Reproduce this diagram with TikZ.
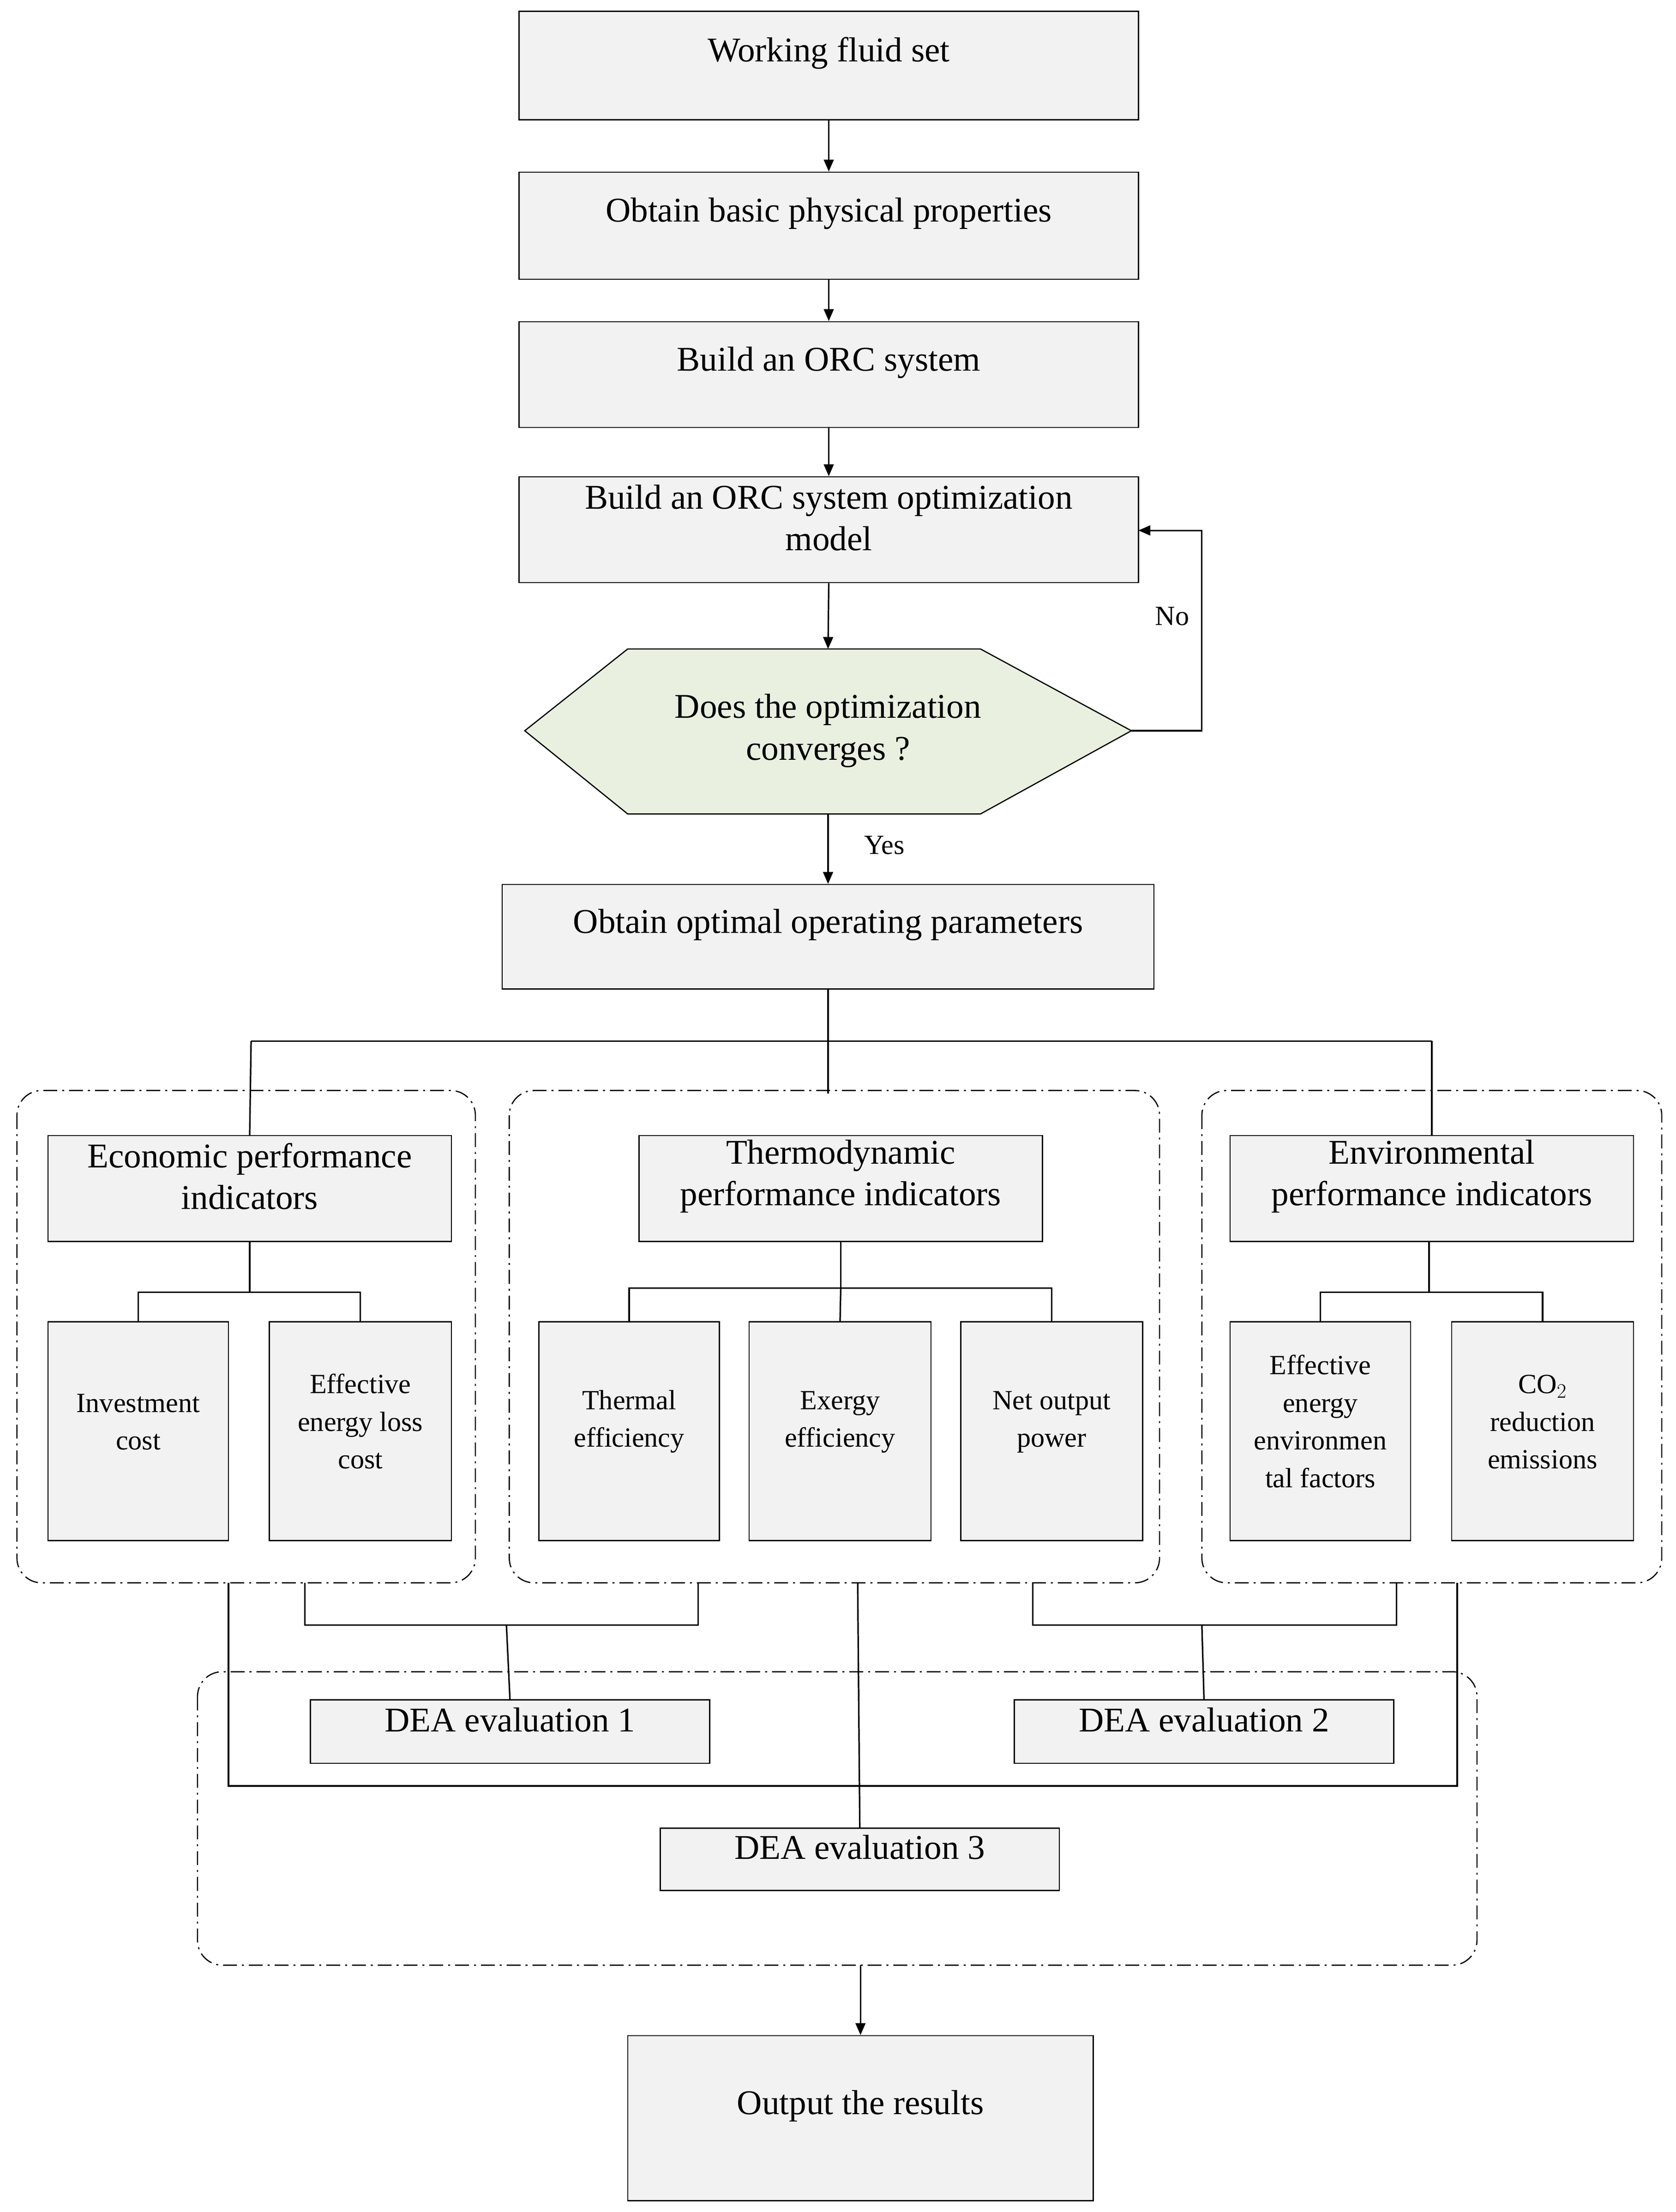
\documentclass[tikz,border=0pt]{standalone}
\usepackage{fontspec}
\setmainfont{Liberation Serif}
\usetikzlibrary{fit,arrows.meta}
\begin{document}
\begin{tikzpicture}[x=0.05cm,y=-0.05cm,
 box/.style={draw,line width=1.2pt,fill=gray!10,inner sep=0pt,align=center,font=\fontsize{35}{42}\selectfont},
 sbox/.style={box,font=\fontsize{28}{38}\selectfont},
 grp/.style={draw,line width=1.2pt,dash pattern=on 14pt off 5pt on 2pt off 5pt,rounded corners=25pt},
 ln/.style={line width=1.5pt},
 ar/.style={ln,-{Triangle[length=12pt,width=10pt]}},
 lab/.style={font=\fontsize{28}{34}\selectfont}]
\useasboundingbox (0,0) rectangle (1188,1568);
\node[box,fit={(368,8)(807,85)}] (b1) {Working fluid set};
\node[box,fit={(368,122)(807,198)}] (b2) {Obtain basic physical properties};
\node[box,fit={(368,228)(807,303)}] (b3) {Build an ORC system};
\node[box,fit={(368,338)(807,413)}] (b4) {Build an ORC system optimization\\model};
\draw[line width=1.2pt,fill={rgb,255:red,233;green,240;blue,224}] (372,518)--(445,460)--(695,460)--(802,518)--(695,577)--(445,577)--cycle;
\node[align=center,font=\fontsize{35}{42}\selectfont] (hx) at (587,518) {Does the optimization\\converges ?};
\coordinate (htop) at (587,460); \coordinate (hbot) at (587,577); \coordinate (hr) at (802,518);
\node[box,fit={(356,627)(818,701)}] (opt) {Obtain optimal operating parameters};
\draw[ar] (b1)--(b2); \draw[ar] (b2)--(b3); \draw[ar] (b3)--(b4);
\draw[ar] (b4.south)--(htop); \draw[ar] (hbot)--(opt.north);
\coordinate (b4r) at (807,376);
\draw[ar] (hr)--(852,518)--(852,376)--(b4r);
\node[lab] at (831,437) {No}; \node[lab] at (627,599) {Yes};
% groups
\draw[grp] (12,773) rectangle (337,1122);
\draw[grp] (361,773) rectangle (822,1122);
\draw[grp] (852,773) rectangle (1178,1122);
\draw[grp] (140,1185) rectangle (1047,1393);
\node[box,fit={(34,805)(320,880)}] (eco) {Economic performance\\indicators};
\node[box,fit={(453,805)(739,880)}] (th) {Thermodynamic\\performance indicators};
\node[box,fit={(872,805)(1158,880)}] (env) {Environmental\\performance indicators};
\draw[ln] (opt.south)--(587,738); \draw[ln] (178,738)--(1015,738);
\draw[ln] (178,738)--(eco.north); \draw[ln] (1015,738)--(env.north); \draw[ln] (587,738)--(587,775);
\node[sbox,fit={(34,937)(162,1092)}] (s1) {Investment\\cost};
\node[sbox,fit={(191,937)(320,1092)}] (s2) {Effective\\energy loss\\cost};
\node[sbox,fit={(382,937)(510,1092)}] (s3) {Thermal\\efficiency};
\node[sbox,fit={(531,937)(660,1092)}] (s4) {Exergy\\efficiency};
\node[sbox,fit={(681,937)(810,1092)}] (s5) {Net output\\power};
\node[sbox,fit={(872,937)(1000,1092)}] (s6) {Effective\\energy\\environmen\\tal factors};
\node[sbox,fit={(1029,937)(1158,1092)}] (s7) {CO$_2$\\reduction\\emissions};
\draw[ln] (eco.south)--(177,916); \draw[ln] (s1.north)|-(177,916)-|(s2.north);
\draw[ln] (596,880)--(596,913); \draw[ln] (s3.north)|-(596,913)-|(s5.north); \draw[ln] (596,913)--(s4.north);
\draw[ln] (1013,880)--(1013,916); \draw[ln] (s6.north)|-(1013,916)-|(s7.north);
\node[box,fit={(220,1205)(503,1250)}] (d1) {DEA evaluation 1};
\node[box,fit={(719,1205)(988,1250)}] (d2) {DEA evaluation 2};
\node[box,fit={(468,1296)(751,1340)}] (d3) {DEA evaluation 3};
\node[box,fit={(445,1443)(775,1560)}] (out) {Output the results};
\draw[ln] (216,1122)--(216,1152)--(495,1152)--(495,1122); \draw[ln] (359,1152)--(d1.north);
\draw[ln] (732,1122)--(732,1152)--(990,1152)--(990,1122); \draw[ln] (852,1152)--(d2.north);
\draw[ln] (162,1122)--(162,1266)--(1033,1266)--(1033,1122); \draw[ln] (608,1122)--(d3.north);
\coordinate (gb) at (610,1393);
\draw[ar] (gb)--(out.north);
\end{tikzpicture}
\end{document}
